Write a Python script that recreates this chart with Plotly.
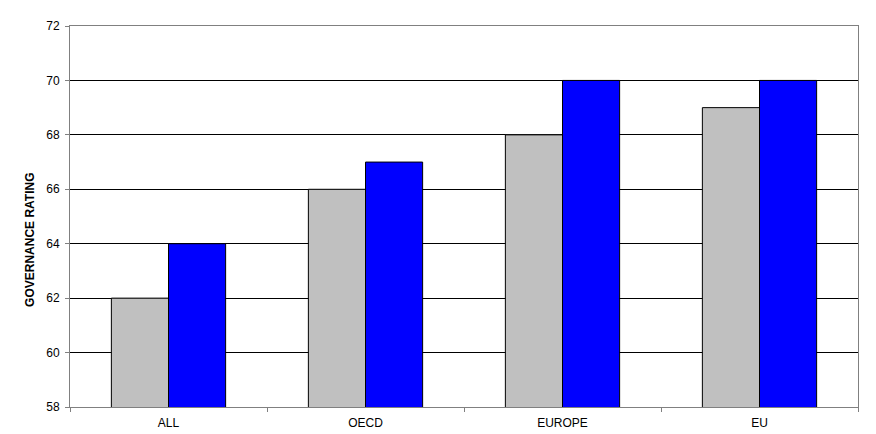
import plotly.graph_objects as go

categories = ["ALL", "OECD", "EUROPE", "EU"]
series_gray = [62, 66, 68, 69]
series_blue = [64, 67, 70, 70]
y_ticks = [58, 60, 62, 64, 66, 68, 70, 72]
y_title = "GOVERNANCE RATING"

fig = go.Figure()
fig.add_trace(go.Bar(x=categories, y=series_gray,
                     marker=dict(color="#C0C0C0", line=dict(color="black", width=1)),
                     showlegend=False))
fig.add_trace(go.Bar(x=categories, y=series_blue,
                     marker=dict(color="#0000FF", line=dict(color="black", width=1)),
                     showlegend=False))

fig.update_layout(
    width=876, height=434,
    margin=dict(l=62, r=26, t=18, b=35),
    paper_bgcolor="white", plot_bgcolor="white",
    barmode="group", bargap=0.42, bargroupgap=0,
    font=dict(family="Liberation Sans, Arial, sans-serif", size=12, color="black"),
    xaxis=dict(
        type="category", tickson="boundaries", ticks="outside", ticklen=4,
        tickcolor="#808080", showline=True, linecolor="#808080", linewidth=1,
        mirror=True, showgrid=False, tickfont=dict(size=12),
        ticklabelstandoff=5,
    ),
    yaxis=dict(
        range=[58, 72], tickvals=y_ticks, ticks="outside", ticklen=4,
        tickcolor="#808080", showline=True, linecolor="#808080", linewidth=1,
        mirror=True, showgrid=True, gridcolor="black", gridwidth=1,
        tickfont=dict(size=12), ticklabelstandoff=3,
    ),
    annotations=[dict(
        text="<b>" + y_title + "</b>", textangle=-90,
        xref="paper", yref="paper", x=-0.051, y=0.438,
        xanchor="center", yanchor="middle", showarrow=False,
        font=dict(size=12, color="black"),
    )],
)

fig.write_html("out.html")
